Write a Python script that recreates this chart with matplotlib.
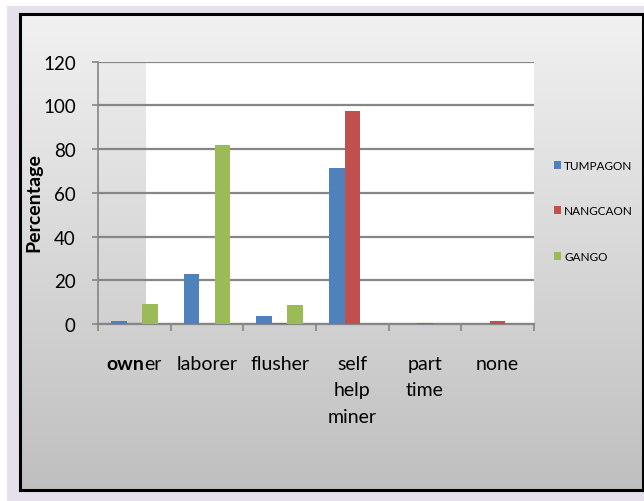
import matplotlib
matplotlib.use("Agg")
import matplotlib.pyplot as plt
import numpy as np
from matplotlib.patches import Rectangle

plt.rcParams['font.family'] = ['Lato', 'DejaVu Sans']

categories = ["owner", "laborer", "flusher", "self\nhelp\nminer", "part\ntime", "none"]
series_names = ["TUMPAGON", "NANGCAON", "GANGO"]
tumpagon = [1.5, 23, 3.5, 71.5, 0, 0]
nangcaon = [0, 0, 0.5, 97.5, 0.5, 1.5]
gango = [9, 82, 8.5, 0, 0, 0]
colors = ["#4f81bd", "#c0504d", "#9bbb59"]
yticks = [0, 20, 40, 60, 80, 100, 120]

W, H = 644, 502
fig = plt.figure(figsize=(W / 100, H / 100), dpi=100)
fig.patch.set_facecolor("white")

def px(x0, y0, x1, y1):
    return [x0 / W, 1 - y1 / H, (x1 - x0) / W, (y1 - y0) / H]

# outer lavender background
bg = fig.add_axes(px(7, 7, 644, 502), zorder=-3)
bg.set_axis_off()
bg.add_patch(Rectangle((0, 0), 1, 1, transform=bg.transAxes, color="#e5e0ec"))

# gradient box with black border
box = fig.add_axes(px(20, 15, 643, 491), zorder=-2)
grad = np.linspace(0, 1, 256).reshape(-1, 1)
top = np.array([0.945, 0.945, 0.945])
bot = np.array([0.75, 0.75, 0.75])
img = top[None, None, :] * (1 - grad[:, :, None]) + bot[None, None, :] * grad[:, :, None]
box.imshow(img, aspect="auto", extent=[0, 1, 0, 1])
box.set_xlim(0, 1); box.set_ylim(0, 1)
box.set_xticks([]); box.set_yticks([])
for s in box.spines.values():
    s.set_linewidth(2.2)
    s.set_color("black")

AX0, AX1 = 98, 534
ax = fig.add_axes(px(AX0, 62.7, AX1, 325))
ax.patch.set_alpha(0)
n = len(categories)
x = np.arange(n)
w = 0.215
ax.set_xlim(-0.5, n - 0.5)
ax.set_ylim(0, 120)
# white plot area (starts a bit right of the y-axis in the reference)
cw = (AX1 - AX0) / n
wx0 = (146 - AX0) / cw - 0.5
ax.add_patch(Rectangle((wx0, 0), n - 0.5 - wx0, 120,
                       facecolor="white", edgecolor="none", zorder=0))
for i, (vals, c, name) in enumerate(zip([tumpagon, nangcaon, gango], colors, series_names)):
    ax.bar(x + (i - 1) * w, vals, width=w, color=c, label=name, zorder=3)

ax.set_yticks(yticks)
ax.yaxis.grid(True, color="#868686", linewidth=1.6, zorder=1)
ax.set_axisbelow(False)
for s in ["top", "right"]:
    ax.spines[s].set_visible(False)
ax.spines["left"].set_color("#868686")
ax.spines["left"].set_linewidth(1.2)
ax.spines["bottom"].set_color("#868686")
ax.spines["bottom"].set_linewidth(1.6)
ax.spines["left"].set_zorder(2)
ax.tick_params(axis="y", length=4, width=1.2, color="#868686", labelsize=13.5, pad=12)
ax.set_xticks(np.arange(n + 1) - 0.5)
ax.set_xticklabels([])
ax.tick_params(axis="x", length=5, width=1.2, color="#868686")
ax.set_xticks(x, minor=True)
ax.set_xticklabels([""] + categories[1:], minor=True, fontsize=14, linespacing=1.7)
ax.tick_params(axis="x", which="minor", length=0, pad=22)
ax.set_ylabel("Percentage", fontsize=14, fontweight="bold")
ax.yaxis.set_label_coords((42 - AX0) / (AX1 - AX0), (325 - 203) / (325 - 62.7))

# "owner" label with partial bold
fig.canvas.draw()
ref = ax.get_xticklabels(minor=True)[1]
bb = ref.get_window_extent()
ytop = bb.y1
r = fig.canvas.get_renderer()
t1 = fig.text(0, 0, "own", fontsize=14, fontweight="bold", va="top", ha="left")
t2 = fig.text(0, 0, "er", fontsize=14, va="top", ha="left")
w1 = t1.get_window_extent(r).width
w2 = t2.get_window_extent(r).width
cx = ax.transData.transform((0, 0))[0]
x0 = cx - (w1 + w2) / 2
t1.set_position((x0 / W, ytop / H))
t2.set_position(((x0 + w1) / W, ytop / H))

ax.legend(loc="center left", bbox_to_anchor=(543 / W, 1 - 212 / H), bbox_transform=fig.transFigure,
          frameon=False, fontsize=8.5, handlelength=0.65, handleheight=0.65, handletextpad=0.25,
          labelspacing=2.9)

fig.savefig("out.png", dpi=100)
